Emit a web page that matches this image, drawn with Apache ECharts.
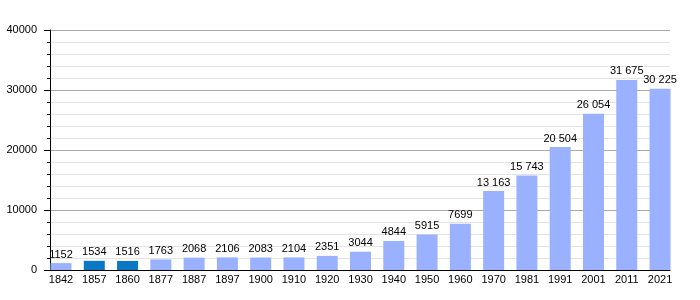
<!DOCTYPE html>
<html>
<head>
<meta charset="utf-8">
<script src="https://cdn.jsdelivr.net/npm/echarts@6/dist/echarts.min.js"></script>
<style>html,body{margin:0;padding:0;background:#fff}#c{width:700px;height:300px}</style>
</head>
<body>
<div id="c"></div>
<script>
const years = ['1842','1857','1860','1877','1887','1897','1900','1910','1920','1930','1940','1950','1960','1970','1981','1991','2001','2011','2021'];
const population = [1152,1534,1516,1763,2068,2106,2083,2104,2351,3044,4844,5915,7699,13163,15743,20504,26054,31675,30225];
const highlightYears = ['1857','1860'];
const yTicks = [0,10000,20000,30000,40000];

const LIGHT = '#99b1ff', DARK = '#0a78c4';
const FONT = 'Liberation Sans, Arial, sans-serif';
function fmt(v){ return v >= 10000 ? String(v).replace(/\B(?=(\d{3})+(?!\d))/g,' ') : String(v); }

const chart = echarts.init(document.getElementById('c'), null, {renderer:'canvas'});
const catW = 33.28, firstCenter = 61, n = years.length;
const g1left = firstCenter - catW/2;
const g1right = 700 - (g1left + catW*n);
chart.setOption({
  animation:false,
  backgroundColor:'#fff',
  grid:[
    {left:50, right:30, top:30, bottom:30, containLabel:false},
    {left:g1left, right:g1right, top:30, bottom:30, containLabel:false}
  ],
  xAxis:[
    {gridIndex:0, type:'value', min:0, max:1, show:true,
      axisLine:{show:true, onZero:false, lineStyle:{color:'#000', width:1}},
      axisTick:{show:false}, axisLabel:{show:false}, splitLine:{show:false}},
    {gridIndex:1, type:'category', data:years,
      axisLine:{show:false}, axisTick:{show:false},
      axisLabel:{color:'#000', fontSize:11, fontFamily:FONT, margin:4, interval:0},
      splitLine:{show:false}}
  ],
  yAxis:[
    {gridIndex:0, type:'value', min:yTicks[0], max:yTicks[yTicks.length-1], interval:10000,
      axisLine:{show:true, lineStyle:{color:'#000', width:1}},
      axisTick:{show:true, length:6, lineStyle:{color:'#000'}},
      minorTick:{show:true, splitNumber:5, length:3, lineStyle:{color:'#000'}},
      axisLabel:{color:'#000', fontSize:11, fontFamily:FONT, margin:13, formatter:v=>String(v)},
      splitLine:{show:true, lineStyle:{color:'#aaaaaa', width:1}},
      minorSplitLine:{show:true, lineStyle:{color:'#e3e3e3', width:1}}},
    {gridIndex:1, type:'value', min:yTicks[0], max:yTicks[yTicks.length-1], show:false, splitLine:{show:false}}
  ],
  series:[{
    type:'bar', xAxisIndex:1, yAxisIndex:1, barWidth:21,
    data: population.map((v,i)=>({value:v, itemStyle:{color: highlightYears.includes(years[i]) ? DARK : LIGHT}})),
    label:{show:true, position:'top', distance:3, color:'#000', fontSize:11, fontFamily:FONT,
      formatter:p=>fmt(p.value)}
  }]
});
</script>
</body>
</html>
